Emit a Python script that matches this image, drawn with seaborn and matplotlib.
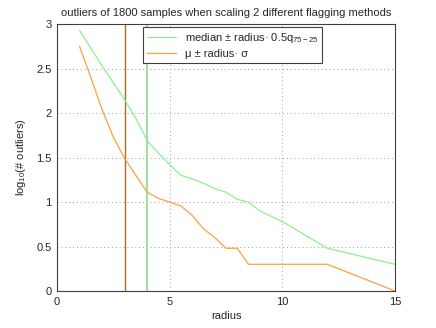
import matplotlib
matplotlib.use('Agg')
import matplotlib.pyplot as plt
import seaborn as sns
import pandas as pd

# radius values and log10(# outliers) per flagging method
radius = [1, 1.5, 2, 2.5, 3, 3.5, 4, 4.5, 5, 5.5, 6, 6.5, 7, 7.5, 8, 8.5, 9, 9.5, 10, 12, 15]
median_q = [2.93, 2.73, 2.53, 2.34, 2.15, 1.94, 1.69, 1.55, 1.42, 1.30, 1.26, 1.21,
            1.15, 1.11, 1.03, 1.00, 0.90, 0.84, 0.78, 0.48, 0.30]
mu_sigma = [2.75, 2.40, 2.04, 1.73, 1.49, 1.30, 1.11, 1.04, 1.00, 0.955, 0.85, 0.70,
            0.60, 0.48, 0.48, 0.30, 0.30, 0.30, 0.30, 0.30, 0.0]
radius_cut = [4, 3]  # chosen radius per method (median, mu)

labels = ['median \u00b1 radius\u00b7 0.5q$_{75\u221225}$', '\u03bc \u00b1 radius\u00b7 \u03c3']
line_colors = ['#8ef08e', '#ffa040']
cut_colors = ['#a8dca8', '#a86e28']

sns.set_style('white')
plt.rcParams['font.family'] = ['Liberation Sans', 'DejaVu Sans']
plt.rcParams['mathtext.fontset'] = 'custom'
plt.rcParams['mathtext.rm'] = 'Liberation Sans'
plt.rcParams['mathtext.it'] = 'Liberation Sans'

df = pd.DataFrame({'radius': radius * 2,
                   'value': median_q + mu_sigma,
                   'method': [labels[0]] * len(radius) + [labels[1]] * len(radius)})

fig = plt.figure(figsize=(4.36, 3.28), dpi=100)
ax = fig.add_axes([0.1307, 0.1128, 0.7753, 0.814])

sns.lineplot(data=df, x='radius', y='value', hue='method', palette=line_colors,
             linewidth=0.9, ax=ax)
ax.axvline(radius_cut[0], color=cut_colors[0], linewidth=1.6, zorder=1)
ax.axvline(radius_cut[1], color=cut_colors[1], linewidth=1.0, zorder=1)

ax.set_xlim(0, 15)
ax.set_ylim(0, 3)
ax.set_xticks([0, 5, 10, 15])
ax.set_yticks([0, 0.5, 1, 1.5, 2, 2.5, 3])
ax.set_yticklabels(['0', '0.5', '1', '1.5', '2', '2.5', '3'])
ax.grid(True, linestyle=(0, (1, 3)), color='#a0a0a0', linewidth=0.7)
ax.tick_params(direction='in', labelsize=8, length=3, color='#404040', pad=4)
for s in ax.spines.values():
    s.set_color('#404040')
    s.set_linewidth(0.8)

ax.set_title('outliers of 1800 samples when scaling 2 different flagging methods', fontsize=8, pad=6)
ax.set_xlabel('radius', fontsize=8, labelpad=3)
ax.set_ylabel('log$_{10}$(# outliers)', fontsize=8, labelpad=6)

leg = ax.legend(loc='upper left', bbox_to_anchor=(0.254, 0.989), borderaxespad=0,
                fontsize=8, frameon=True, fancybox=False, edgecolor='#404040',
                framealpha=1, handlelength=2.6, borderpad=0.35, labelspacing=0.35)
leg.get_frame().set_linewidth(0.8)

plt.savefig('out.png', dpi=100)
